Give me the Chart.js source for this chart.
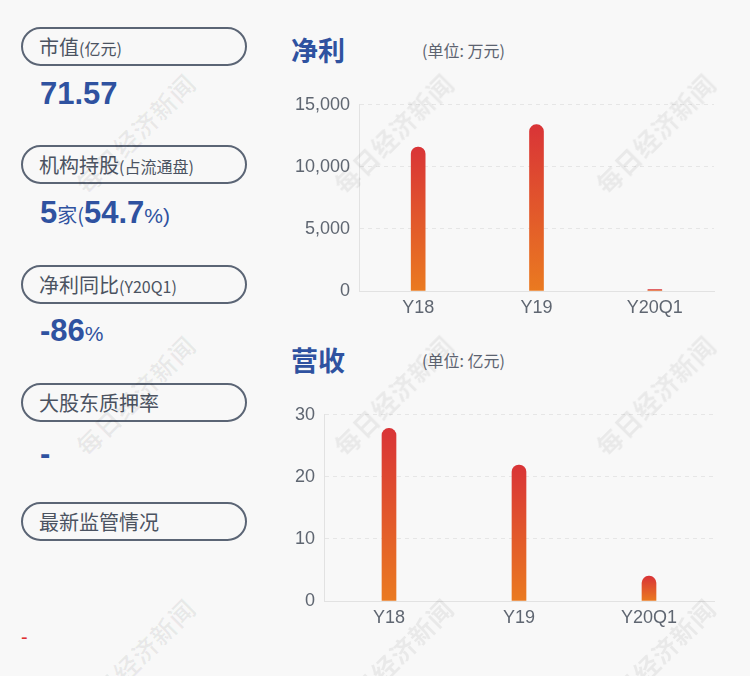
<!DOCTYPE html>
<html>
<head>
<meta charset="utf-8">
<script src="https://cdn.jsdelivr.net/npm/chart.js@4"></script>
<style>
  html, body { margin: 0; padding: 0; }
  body {
    width: 750px; height: 676px; position: relative; overflow: hidden;
    background: #f8f8f8;
    font-family: "Noto Sans CJK SC", "Liberation Sans", sans-serif;
  }
  .pill {
    position: absolute; left: 21px; width: 222px; height: 35px;
    border: 2px solid #5b6575; border-radius: 20px;
    color: #4b5361; font-size: 20px; line-height: 35px;
    box-sizing: content-box;
  }
  .pill span.t { position: absolute; left: 16px; top: 0; white-space: nowrap; }
  .pill small { font-size: 16px; }
  .val {
    position: absolute; left: 40px; color: #2f52a0;
    font-family: "Liberation Sans", Arial, sans-serif; font-weight: bold; font-size: 31px;
  }
  .val small { font-family: "Noto Sans CJK SC", sans-serif; font-weight: normal; font-size: 20px; }
  .val .pct { font-family: "Liberation Sans", sans-serif; font-size: 21px; font-weight: normal; }
  .title {
    position: absolute; left: 291px; color: #2f52a0;
    font-size: 27px; font-weight: bold; line-height: 30px;
  }
  .unit {
    position: absolute; left: 422px; color: #5c6370; font-size: 16px; line-height: 20px;
  }
  .wm {
    position: absolute; width: 200px; text-align: center; color: rgba(0,0,0,0.06);
    font-size: 25px; font-weight: bold; transform: rotate(-45deg); letter-spacing: 1px;
    pointer-events: none; z-index: 5;
  }
  canvas { position: absolute; }
</style>
</head>
<body>

<div class="pill" style="top:27px"><span class="t">市值<small>(亿元)</small></span></div>
<div class="val" style="top:76px">71.57</div>

<div class="pill" style="top:145px"><span class="t">机构持股<small>(占流通盘)</small></span></div>
<div class="val" style="top:195px">5<small>家(</small>54.7<span class="pct">%)</span></div>

<div class="pill" style="top:265px"><span class="t">净利同比<small>(Y20Q1)</small></span></div>
<div class="val" style="top:313px">-86<span class="pct">%</span></div>

<div class="pill" style="top:383px"><span class="t">大股东质押率</span></div>
<div class="val" style="top:436px">-</div>

<div class="pill" style="top:502px"><span class="t">最新监管情况</span></div>
<div style="position:absolute;left:21px;top:626px;color:#e03030;font-size:20px;font-family:'Liberation Sans',sans-serif;">-</div>

<div class="title" style="top:35px">净利</div>
<div class="unit" style="top:40px">(单位: 万元)</div>
<div class="title" style="top:345px">营收</div>
<div class="unit" style="top:350px">(单位: 亿元)</div>

<canvas id="profit-chart" style="left:280px;top:85px" width="445" height="240"></canvas>
<canvas id="revenue-chart" style="left:280px;top:395px" width="445" height="240"></canvas>

<div class="wm" style="left:35px;top:115px">每日经济新闻</div>
<div class="wm" style="left:293px;top:115px">每日经济新闻</div>
<div class="wm" style="left:555px;top:115px">每日经济新闻</div>
<div class="wm" style="left:35px;top:377px">每日经济新闻</div>
<div class="wm" style="left:293px;top:377px">每日经济新闻</div>
<div class="wm" style="left:555px;top:377px">每日经济新闻</div>
<div class="wm" style="left:35px;top:640px">每日经济新闻</div>
<div class="wm" style="left:293px;top:640px">每日经济新闻</div>
<div class="wm" style="left:555px;top:640px">每日经济新闻</div>

<script>
// ============================
// DATA
// ============================

const periods = ["Y18", "Y19", "Y20Q1"];
const profitValues = [11600, 13400, 110];   // 万元
const revenueValues = [27.8, 21.9, 4.0];     // 亿元

const profitTicks = { max: 15000, step: 5000 };
const revenueTicks = { max: 30, step: 10 };

// ============================
// HELPERS
// ============================

function barGradient(context) {
  const chart = context.chart;
  const { ctx, chartArea } = chart;
  if (!chartArea) return "#e05a2a";
  const yScale = chart.scales.y;
  const value = context.raw ?? 0;
  const top = yScale.getPixelForValue(value);
  const base = yScale.getPixelForValue(0);
  if (!isFinite(top) || Math.abs(base - top) < 1) return "#ea7a22";
  const g = ctx.createLinearGradient(0, top, 0, base);
  g.addColorStop(0, "#d93437");
  g.addColorStop(1, "#ea7a20");
  return g;
}

function makeChart(canvasId, values, tickCfg, yAxisWidth) {
  return new Chart(document.getElementById(canvasId), {
    type: "bar",
    data: {
      labels: periods,
      datasets: [{
        data: values,
        backgroundColor: barGradient,
        barThickness: 14,
        borderRadius: { topLeft: 7, topRight: 7, bottomLeft: 0, bottomRight: 0 },
        borderSkipped: false
      }]
    },
    options: {
      responsive: false,
      animation: false,
      layout: { padding: { top: 8, right: 11, bottom: 0, left: 0 } },
      plugins: {
        legend: { display: false },
        tooltip: { enabled: false }
      },
      scales: {
        x: {
          grid: { display: false, drawTicks: false },
          border: { display: true, color: "#e2e2e2", width: 1 },
          ticks: {
            color: "#5f6671",
            padding: 6,
            font: { family: "Liberation Sans", size: 18 }
          },
          afterFit: scale => { scale.height = 34; }
        },
        y: {
          min: 0,
          max: tickCfg.max,
          grid: { color: "#e6e6e6", drawTicks: false, lineWidth: 1 },
          border: { display: true, color: "#e2e2e2", dash: [4, 4] },
          ticks: {
            stepSize: tickCfg.step,
            color: "#5f6671",
            padding: 9,
            font: { family: "Liberation Sans", size: 18 },
            callback: v => v.toLocaleString("en-US")
          },
          afterFit: scale => { scale.width = yAxisWidth; }
        }
      }
    }
  });
}

makeChart("profit-chart", profitValues, profitTicks, 79);
makeChart("revenue-chart", revenueValues, revenueTicks, 44);
</script>
</body>
</html>
